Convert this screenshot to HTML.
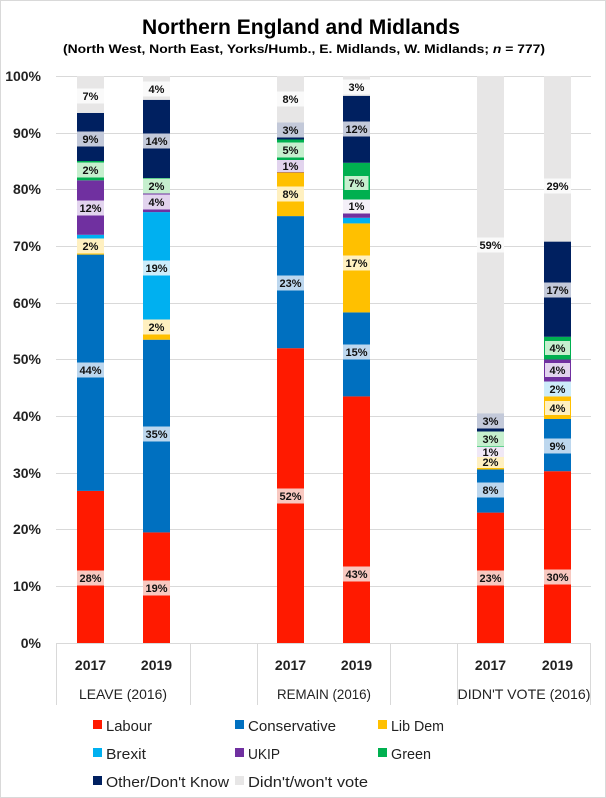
<!DOCTYPE html>
<html><head><meta charset="utf-8"><style>
body{margin:0;background:#fff}
svg{display:block;font-family:"Liberation Sans",sans-serif}
.lb{font-size:11px;font-weight:bold;text-anchor:middle;fill:#111}
</style></head><body>
<svg width="606" height="798" viewBox="0 0 606 798" xmlns="http://www.w3.org/2000/svg">
<rect x="0.5" y="0.5" width="605" height="797" fill="#fff" stroke="#d9d9d9"/>
<text x="142" y="34" font-size="21" font-weight="bold" textLength="318" lengthAdjust="spacingAndGlyphs">Northern England and Midlands</text>
<text x="63" y="53" font-size="12" font-weight="bold" textLength="482" lengthAdjust="spacingAndGlyphs">(North West, North East, Yorks/Humb., E. Midlands, W. Midlands; <tspan font-style="italic">n</tspan> = 777)</text>
<g stroke="#d9d9d9" stroke-width="1">
<line x1="56" y1="76.5" x2="591" y2="76.5"/><line x1="56" y1="133.5" x2="591" y2="133.5"/><line x1="56" y1="189.5" x2="591" y2="189.5"/><line x1="56" y1="246.5" x2="591" y2="246.5"/><line x1="56" y1="303.5" x2="591" y2="303.5"/><line x1="56" y1="359.5" x2="591" y2="359.5"/><line x1="56" y1="416.5" x2="591" y2="416.5"/><line x1="56" y1="473.5" x2="591" y2="473.5"/><line x1="56" y1="529.5" x2="591" y2="529.5"/><line x1="56" y1="586.5" x2="591" y2="586.5"/><line x1="56" y1="643.5" x2="591" y2="643.5"/>
<line x1="56.5" y1="643" x2="56.5" y2="705"/><line x1="190.5" y1="643" x2="190.5" y2="705"/><line x1="257.5" y1="643" x2="257.5" y2="705"/><line x1="390.5" y1="643" x2="390.5" y2="705"/><line x1="457.5" y1="643" x2="457.5" y2="705"/><line x1="590.5" y1="643" x2="590.5" y2="705"/>
</g>
<g font-size="14" font-weight="bold" text-anchor="end" fill="#222">
<text x="41" y="81">100%</text><text x="41" y="138">90%</text><text x="41" y="194">80%</text><text x="41" y="251">70%</text><text x="41" y="308">60%</text><text x="41" y="364">50%</text><text x="41" y="421">40%</text><text x="41" y="478">30%</text><text x="41" y="534">20%</text><text x="41" y="591">10%</text><text x="41" y="648">0%</text>
</g>
<g>
<rect x="77" y="490.9" width="27" height="152.1" fill="#ff1a00"/>
<rect x="77" y="254.6" width="27" height="236.3" fill="#0070c0"/>
<rect x="77" y="243.3" width="27" height="11.3" fill="#ffc000"/>
<rect x="77" y="234.8" width="27" height="8.5" fill="#00b0f0"/>
<rect x="77" y="180.3" width="27" height="54.5" fill="#7030a0"/>
<rect x="77" y="161" width="27" height="19.3" fill="#00b050"/>
<rect x="77" y="112.9" width="27" height="48.1" fill="#002060"/>
<rect x="77" y="76" width="27" height="36.9" fill="#e7e6e6"/>
</g>
<g>
<rect x="143" y="532.4" width="27" height="110.6" fill="#ff1a00"/>
<rect x="143" y="339.7" width="27" height="192.7" fill="#0070c0"/>
<rect x="143" y="319.8" width="27" height="19.9" fill="#ffc000"/>
<rect x="143" y="212.1" width="27" height="107.7" fill="#00b0f0"/>
<rect x="143" y="192.2" width="27" height="19.9" fill="#7030a0"/>
<rect x="143" y="178" width="27" height="14.2" fill="#00b050"/>
<rect x="143" y="99.8" width="27" height="78.2" fill="#002060"/>
<rect x="143" y="76" width="27" height="23.8" fill="#e7e6e6"/>
</g>
<g>
<rect x="277" y="348.2" width="27" height="294.8" fill="#ff1a00"/>
<rect x="277" y="216.1" width="27" height="132.1" fill="#0070c0"/>
<rect x="277" y="172.4" width="27" height="43.7" fill="#ffc000"/>
<rect x="277" y="163.9" width="27" height="8.5" fill="#7030a0"/>
<rect x="277" y="139.5" width="27" height="24.4" fill="#00b050"/>
<rect x="277" y="122.5" width="27" height="17" fill="#002060"/>
<rect x="277" y="76" width="27" height="46.5" fill="#e7e6e6"/>
</g>
<g>
<rect x="343" y="396.4" width="27" height="246.6" fill="#ff1a00"/>
<rect x="343" y="312.4" width="27" height="84" fill="#0070c0"/>
<rect x="343" y="223.4" width="27" height="89" fill="#ffc000"/>
<rect x="343" y="217.8" width="27" height="5.6" fill="#00b0f0"/>
<rect x="343" y="212.1" width="27" height="5.7" fill="#7030a0"/>
<rect x="343" y="162.8" width="27" height="49.3" fill="#00b050"/>
<rect x="343" y="95.8" width="27" height="67" fill="#002060"/>
<rect x="343" y="76" width="27" height="19.8" fill="#e7e6e6"/>
</g>
<g>
<rect x="477" y="512.6" width="27" height="130.4" fill="#ff1a00"/>
<rect x="477" y="469.5" width="27" height="43.1" fill="#0070c0"/>
<rect x="477" y="459.3" width="27" height="10.2" fill="#ffc000"/>
<rect x="477" y="452.5" width="27" height="6.8" fill="#7030a0"/>
<rect x="477" y="433.2" width="27" height="19.3" fill="#00b050"/>
<rect x="477" y="413.4" width="27" height="19.8" fill="#002060"/>
<rect x="477" y="76" width="27" height="337.4" fill="#e7e6e6"/>
</g>
<g>
<rect x="544" y="471.2" width="27" height="171.8" fill="#ff1a00"/>
<rect x="544" y="419" width="27" height="52.2" fill="#0070c0"/>
<rect x="544" y="394.7" width="27" height="24.3" fill="#ffc000"/>
<rect x="544" y="382.2" width="27" height="12.5" fill="#00b0f0"/>
<rect x="544" y="359.5" width="27" height="22.7" fill="#7030a0"/>
<rect x="544" y="336.8" width="27" height="22.7" fill="#00b050"/>
<rect x="544" y="241.6" width="27" height="95.2" fill="#002060"/>
<rect x="544" y="76" width="27" height="165.6" fill="#e7e6e6"/>
</g>
<g>
<rect x="77" y="570.5" width="27" height="15" fill="#f8c8c0"/><text class="lb" x="90.5" y="582">28%</text>
<rect x="77" y="362.5" width="27" height="15" fill="#bdd7ee"/><text class="lb" x="90.5" y="374">44%</text>
<rect x="77" y="238.5" width="27" height="15" fill="#fff0c0"/><text class="lb" x="90.5" y="250">2%</text>
<rect x="77" y="200.5" width="27" height="15" fill="#e2d4ee"/><text class="lb" x="90.5" y="212">12%</text>
<rect x="77" y="162.5" width="27" height="15" fill="#c6efce"/><text class="lb" x="90.5" y="174">2%</text>
<rect x="77" y="131.5" width="27" height="15" fill="#c3c9d9"/><text class="lb" x="90.5" y="143">9%</text>
<rect x="77" y="88.5" width="27" height="15" fill="#fafafa"/><text class="lb" x="90.5" y="100">7%</text>

<rect x="143" y="580.5" width="27" height="15" fill="#f8c8c0"/><text class="lb" x="156.5" y="592">19%</text>
<rect x="143" y="426.5" width="27" height="15" fill="#bdd7ee"/><text class="lb" x="156.5" y="438">35%</text>
<rect x="143" y="319.5" width="27" height="15" fill="#fff0c0"/><text class="lb" x="156.5" y="331">2%</text>
<rect x="143" y="260.5" width="27" height="15" fill="#ccecfa"/><text class="lb" x="156.5" y="272">19%</text>
<rect x="143" y="194.5" width="27" height="15" fill="#e2d4ee"/><text class="lb" x="156.5" y="206">4%</text>
<rect x="143" y="178.5" width="27" height="15" fill="#c6efce"/><text class="lb" x="156.5" y="190">2%</text>
<rect x="143" y="133.5" width="27" height="15" fill="#c3c9d9"/><text class="lb" x="156.5" y="145">14%</text>
<rect x="143" y="81.5" width="27" height="15" fill="#fafafa"/><text class="lb" x="156.5" y="93">4%</text>

<rect x="277" y="488.5" width="27" height="15" fill="#f8c8c0"/><text class="lb" x="290.5" y="500">52%</text>
<rect x="277" y="275.5" width="27" height="15" fill="#bdd7ee"/><text class="lb" x="290.5" y="287">23%</text>
<rect x="277" y="186.5" width="27" height="15" fill="#fff0c0"/><text class="lb" x="290.5" y="198">8%</text>
<rect x="277" y="160" width="27" height="12" fill="#e2d4ee"/><text class="lb" x="290.5" y="170">1%</text>
<rect x="277" y="142.5" width="27" height="15" fill="#c6efce"/><text class="lb" x="290.5" y="154">5%</text>
<rect x="277" y="122.5" width="27" height="15" fill="#c3c9d9"/><text class="lb" x="290.5" y="134">3%</text>
<rect x="277" y="91.5" width="27" height="15" fill="#fafafa"/><text class="lb" x="290.5" y="103">8%</text>

<rect x="343" y="566.5" width="27" height="15" fill="#f8c8c0"/><text class="lb" x="356.5" y="578">43%</text>
<rect x="343" y="344.5" width="27" height="15" fill="#bdd7ee"/><text class="lb" x="356.5" y="356">15%</text>
<rect x="343" y="255.5" width="27" height="15" fill="#fff0c0"/><text class="lb" x="356.5" y="267">17%</text>
<rect x="343" y="199.5" width="27" height="14" fill="#f4f0f8"/><text class="lb" x="356.5" y="210">1%</text>
<rect x="344" y="175.5" width="25" height="15" fill="#c6efce" stroke="#00b050"/><text class="lb" x="356.5" y="187">7%</text>
<rect x="343" y="121.5" width="27" height="15" fill="#c3c9d9"/><text class="lb" x="356.5" y="133">12%</text>
<rect x="343" y="79.5" width="27" height="15" fill="#fafafa"/><text class="lb" x="356.5" y="91">3%</text>

<rect x="477" y="570.5" width="27" height="15" fill="#f8c8c0"/><text class="lb" x="490.5" y="582">23%</text>
<rect x="477" y="482.5" width="27" height="15" fill="#bdd7ee"/><text class="lb" x="490.5" y="494">8%</text>
<rect x="477" y="456" width="27" height="12" fill="#fff0c0"/><text class="lb" x="490.5" y="466">2%</text>
<rect x="477" y="447" width="27" height="10" fill="#f0e8f6"/><text class="lb" x="490.5" y="456">1%</text>
<rect x="477" y="431.5" width="27" height="15" fill="#c6efce"/><text class="lb" x="490.5" y="443">3%</text>
<rect x="477" y="413.5" width="27" height="15" fill="#c3c9d9"/><text class="lb" x="490.5" y="425">3%</text>
<rect x="477" y="237.5" width="27" height="15" fill="#fafafa"/><text class="lb" x="490.5" y="249">59%</text>

<rect x="544" y="569.5" width="27" height="15" fill="#f8c8c0"/><text class="lb" x="557.5" y="581">30%</text>
<rect x="544" y="438.5" width="27" height="15" fill="#bdd7ee"/><text class="lb" x="557.5" y="450">9%</text>
<rect x="544.5" y="400.5" width="26" height="15" fill="#fff0c0" stroke="#ffc000"/><text class="lb" x="557.5" y="412">4%</text>
<rect x="544" y="381.5" width="27" height="15" fill="#ccecfa"/><text class="lb" x="557.5" y="393">2%</text>
<rect x="544.5" y="362.5" width="26" height="15" fill="#e2d4ee" stroke="#7030a0"/><text class="lb" x="557.5" y="374">4%</text>
<rect x="544.5" y="340.5" width="26" height="15" fill="#c6efce" stroke="#00b050"/><text class="lb" x="557.5" y="352">4%</text>
<rect x="544" y="282.5" width="27" height="15" fill="#c3c9d9"/><text class="lb" x="557.5" y="294">17%</text>
<rect x="544" y="178.5" width="27" height="15" fill="#fafafa"/><text class="lb" x="557.5" y="190">29%</text>
</g>
<g font-size="14" font-weight="bold" text-anchor="middle" fill="#222">
<text x="90.5" y="670">2017</text><text x="156.5" y="670">2019</text>
<text x="290.5" y="670">2017</text><text x="356.5" y="670">2019</text>
<text x="490.5" y="670">2017</text><text x="557.5" y="670">2019</text>
</g>
<g font-size="14" text-anchor="middle" fill="#222">
<text x="123" y="699" textLength="88" lengthAdjust="spacingAndGlyphs">LEAVE (2016)</text><text x="324" y="699" textLength="94" lengthAdjust="spacingAndGlyphs">REMAIN (2016)</text><text x="524" y="699" textLength="133" lengthAdjust="spacingAndGlyphs">DIDN'T VOTE (2016)</text>
</g>
<g font-size="15" fill="#222">
<rect x="93" y="720" width="9" height="9" fill="#ff1a00"/><text x="106" y="731" textLength="46" lengthAdjust="spacingAndGlyphs">Labour</text>
<rect x="235" y="720" width="9" height="9" fill="#0070c0"/><text x="248" y="731" textLength="88" lengthAdjust="spacingAndGlyphs">Conservative</text>
<rect x="378" y="720" width="9" height="9" fill="#ffc000"/><text x="391" y="731" textLength="53" lengthAdjust="spacingAndGlyphs">Lib Dem</text>
<rect x="93" y="748" width="9" height="9" fill="#00b0f0"/><text x="106" y="759" textLength="40" lengthAdjust="spacingAndGlyphs">Brexit</text>
<rect x="235" y="748" width="9" height="9" fill="#7030a0"/><text x="248" y="759" textLength="32" lengthAdjust="spacingAndGlyphs">UKIP</text>
<rect x="378" y="748" width="9" height="9" fill="#00b050"/><text x="391" y="759" textLength="40" lengthAdjust="spacingAndGlyphs">Green</text>
<rect x="93" y="776" width="9" height="9" fill="#002060"/><text x="106" y="787" textLength="123" lengthAdjust="spacingAndGlyphs">Other/Don't Know</text>
<rect x="235" y="776" width="9" height="9" fill="#e7e6e6"/><text x="248" y="787" textLength="120" lengthAdjust="spacingAndGlyphs">Didn't/won't vote</text>
</g>
</svg>
</body></html>
